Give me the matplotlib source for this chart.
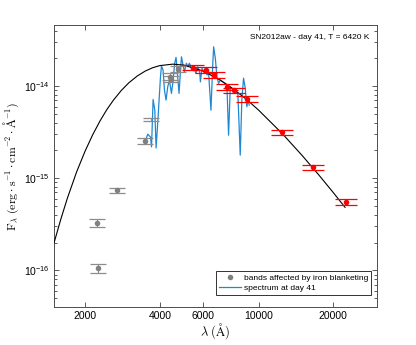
import numpy as np
import matplotlib
matplotlib.use("Agg")
import matplotlib.pyplot as plt

plt.rcParams['font.family'] = ['Liberation Sans', 'DejaVu Sans']
plt.rcParams['mathtext.fontset'] = 'custom'
plt.rcParams['mathtext.rm'] = 'Liberation Sans'
plt.rcParams['mathtext.it'] = 'Liberation Sans:italic'
plt.rcParams['mathtext.bf'] = 'Liberation Sans:bold'

# blackbody fit, T = 6420 K
bb_wave = [1500, 1600, 1700, 1850, 2000, 2150, 2300, 2450, 2600, 2800, 3000, 3250,
           3500, 3750, 4000, 4514, 5000, 6000, 7000, 8000, 9000, 10000, 12500,
           15000, 17500, 20000, 22300]
bb_flux = [1.98e-16, 3.63e-16, 6.12e-16, 1.17e-15, 1.96e-15, 2.98e-15, 4.20e-15,
           5.57e-15, 7.01e-15, 8.96e-15, 1.083e-14, 1.289e-14, 1.458e-14, 1.583e-14,
           1.668e-14, 1.73e-14, 1.689e-14, 1.451e-14, 1.165e-14, 9.10e-15, 7.06e-15,
           5.49e-15, 3.02e-15, 1.758e-15, 1.082e-15, 6.98e-16, 4.83e-16]

# spectrum at day 41
sp_wave = [3506, 3581, 3671, 3706, 3761, 3820, 3867, 3939, 4027, 4064, 4125, 4178,
           4240, 4307, 4376, 4458, 4512, 4596, 4652, 4726, 4783, 4845, 4891, 4963,
           5028, 5121, 5183, 5266, 5364, 5480, 5598, 5686, 5792, 5831, 5918, 6012,
           6107, 6197, 6295, 6431, 6533, 6593, 6697, 6797, 6905, 7015, 7165, 7345,
           7455, 7573, 7692, 7808, 8056, 8253, 8437, 8563, 8700, 8837, 8969, 9085, 9170]
sp_flux = [2.59e-15, 3.01e-15, 2.79e-15, 2.19e-15, 7.16e-15, 5.48e-15, 2.13e-15,
           4.64e-15, 1.26e-14, 1.65e-14, 1.49e-14, 9.05e-15, 7.05e-15, 9.83e-15,
           1.16e-14, 8.33e-15, 1.07e-14, 1.78e-14, 2.05e-14, 1.26e-14, 8.33e-15,
           1.43e-14, 2.08e-14, 1.69e-14, 1.43e-14, 1.77e-14, 1.62e-14, 1.77e-14,
           1.56e-14, 1.62e-14, 1.37e-14, 1.62e-14, 1.43e-14, 1.11e-14, 1.56e-14,
           1.43e-14, 1.56e-14, 1.32e-14, 1.37e-14, 5.48e-15, 1.62e-14, 2.67e-14,
           2.00e-14, 1.26e-14, 1.07e-14, 1.16e-14, 1.11e-14, 1.07e-14, 1.03e-14,
           2.93e-15, 9.83e-15, 9.44e-15, 8.67e-15, 8.33e-15, 1.78e-15, 7.05e-15,
           1.22e-14, 9.51e-15, 5.96e-15, 7.05e-15, 6.21e-15]

# photometry affected by iron blanketing (grey)
fe_wave = [2255, 2228, 2681, 3474, 3693, 4400, 4460, 4726]
fe_flux = [1.06e-16, 3.27e-16, 7.41e-16, 2.52e-15, 4.35e-15, 1.27e-14, 1.20e-14, 1.53e-14]
fe_err = [1.2e-17, 3.3e-17, 4.5e-17, 1.9e-16, 2.0e-16, 1.0e-15, 1.0e-15, 1.1e-15]
fe_shown = [True, True, True, True, False, True, True, True]

# photometry used for the fit (red)
ok_wave = [5445, 6164, 6592, 7482, 7946, 8970, 12480, 16620, 22400]
ok_flux = [1.58e-14, 1.50e-14, 1.32e-14, 9.83e-15, 8.98e-15, 7.22e-15, 3.16e-15, 1.31e-15, 5.53e-16]
ok_err = [1.0e-15, 1.0e-15, 9.0e-16, 7.0e-16, 6.5e-16, 5.0e-16, 2.1e-16, 9.0e-17, 3.8e-17]

fig = plt.figure(figsize=(4.16, 3.45), dpi=100)
ax = fig.add_axes([0.1298, 0.1101, 0.7765, 0.8174])

ax.plot(bb_wave, bb_flux, color='black', lw=0.8, zorder=3)
ax.plot(sp_wave, sp_flux, color='#1f88d2', lw=0.9, label='spectrum at day 41', zorder=2)

ax.errorbar(fe_wave, fe_flux, yerr=fe_err, fmt='none', ecolor='#8c8c8c',
            elinewidth=0.8, capsize=6, capthick=0.9, zorder=4)
fw = [w for w, s in zip(fe_wave, fe_shown) if s]
ff = [f for f, s in zip(fe_flux, fe_shown) if s]
ax.plot(fw, ff, 'o', color='#808080', ms=4, mec='none',
        label='bands affected by iron blanketing', zorder=5)

ax.errorbar(ok_wave, ok_flux, yerr=ok_err, fmt='o', color='red', ms=4, mec='none',
            ecolor='red', elinewidth=0.8, capsize=8, capthick=0.9, zorder=6)

ax.set_xscale('log')
ax.set_yscale('log')
ax.set_xlim(1500, 30000)
ax.set_ylim(4e-17, 4.6e-14)
ax.set_xticks([2000, 4000, 6000, 10000, 20000])
ax.set_xticklabels(['2000', '4000', '6000', '10000', '20000'])
ax.xaxis.set_minor_locator(matplotlib.ticker.NullLocator())
ax.set_yticks([1e-16, 1e-15, 1e-14])
ax.yaxis.set_minor_locator(matplotlib.ticker.LogLocator(base=10, subs=np.arange(2, 10)))
ax.yaxis.set_minor_formatter(matplotlib.ticker.NullFormatter())

ax.tick_params(which='both', direction='in', top=True, right=True, colors='0.25',
               labelcolor='black', labelsize=7.5, width=0.6)
ax.tick_params(which='major', length=3.5, pad=3)
ax.tick_params(which='minor', length=2)
for s in ax.spines.values():
    s.set_color('0.3')
    s.set_linewidth(0.7)

ax.set_xlabel(r'$\lambda\ (\mathrm{\AA})$', fontsize=9, math_fontfamily='cm', labelpad=0)
ax.set_ylabel(r'$\mathrm{F}_\lambda\ (\mathrm{erg}\cdot\mathrm{s}^{-1}\cdot\mathrm{cm}^{-2}\cdot\mathrm{\AA}^{-1})$',
              fontsize=8.5, math_fontfamily='cm', labelpad=2)

ax.text(0.975, 0.955, 'SN2012aw - day 41, T = 6420 K', transform=ax.transAxes,
        ha='right', va='center', fontsize=6)

h, l = ax.get_legend_handles_labels()
leg = ax.legend(h[::-1], l[::-1], loc='lower right', bbox_to_anchor=(0.982, 0.043),
                borderaxespad=0, fontsize=6, fancybox=False, framealpha=1,
                edgecolor='0.2', handlelength=2.6, handletextpad=0.4,
                labelspacing=0.25, borderpad=0.35)
leg.get_frame().set_linewidth(0.7)

fig.savefig('out.png', dpi=100)
